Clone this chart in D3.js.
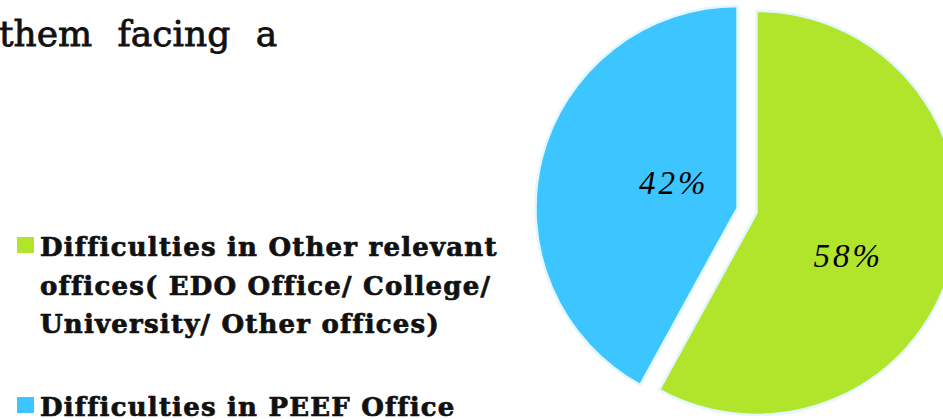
<!DOCTYPE html>
<html>
<head>
<meta charset="utf-8">
<script src="https://cdn.jsdelivr.net/npm/d3@7"></script>
<style>
  html, body { margin: 0; padding: 0; background: #fff; overflow: hidden; }
</style>
</head>
<body>
<div id="chart"></div>
<script>
// data
const categories = ["Difficulties in Other relevant offices( EDO Office/ College/ University/ Other offices)", "Difficulties in PEEF Office"];
const values = [58, 42];
const colors = ["#b1e52c", "#3cc5fe"];
const legendLines = [
  ["Difficulties in Other relevant", "offices( EDO Office/ College/", "University/ Other offices)"],
  ["Difficulties in PEEF Office"]
];
const headingWords = ["them", "facing", "a"];

const width = 943, height = 419;
const radius = 202;
const cx = 737.5, cy = 208;       // pie centre (un-exploded slice)
const explode = [19.6, 0];        // slice pulled out along its bisector
const labelDist = [0.5, 0.34];    // label distance as share of radius
const labelTurn = [0.18, 0.13];   // small angle shift of the labels (rad)

const svg = d3.select("#chart")
  .append("svg")
  .attr("width", width)
  .attr("height", height);

// heading fragment at top left
svg.append("text")
  .attr("x", -1)
  .attr("y", 46)
  .attr("font-family", "DejaVu Serif")
  .attr("font-size", 36)
  .attr("word-spacing", 14)
  .attr("fill", "#111")
  .attr("stroke", "#111")
  .attr("stroke-width", 0.8)
  .text(headingWords.join(" "));

// pie
const pie = d3.pie().sort(null).value(d => d)(values);
const arc = d3.arc().innerRadius(0).outerRadius(radius);

const slices = svg.selectAll("g.slice")
  .data(pie)
  .enter()
  .append("g")
  .attr("class", "slice")
  .attr("transform", (d, i) => {
    const a = (d.startAngle + d.endAngle) / 2;
    const dx = Math.sin(a) * explode[i], dy = -Math.cos(a) * explode[i];
    return "translate(" + (cx + dx) + "," + (cy + dy) + ")";
  });

slices.append("path")
  .attr("d", arc)
  .attr("fill", (d, i) => colors[i])
  .attr("stroke", "#e4f6ff")
  .attr("stroke-width", 2.5)
  .attr("stroke-linejoin", "round");

slices.append("text")
  .attr("x", (d, i) => {
    const a = (d.startAngle + d.endAngle) / 2 + labelTurn[i];
    return Math.sin(a) * radius * labelDist[i];
  })
  .attr("y", (d, i) => {
    const a = (d.startAngle + d.endAngle) / 2 + labelTurn[i];
    return -Math.cos(a) * radius * labelDist[i];
  })
  .attr("dy", "0.35em")
  .attr("text-anchor", "middle")
  .attr("font-family", "Liberation Serif")
  .attr("font-style", "italic")
  .attr("font-size", 33)
  .attr("letter-spacing", 3)
  .attr("fill", "#000")
  .text(d => d.data + "%");

// legend
const legendTop = [237, 397];
const legend = svg.selectAll("g.legend")
  .data(categories)
  .enter()
  .append("g")
  .attr("class", "legend")
  .attr("transform", (d, i) => "translate(17," + legendTop[i] + ")");

legend.append("rect")
  .attr("width", 17)
  .attr("height", 16)
  .attr("fill", (d, i) => colors[i]);

legend.each(function(d, i) {
  const t = d3.select(this).append("text")
    .attr("font-family", "DejaVu Serif")
    .attr("font-weight", "bold")
    .attr("font-size", 26)
    .attr("letter-spacing", 1.2)
    .attr("fill", "#111")
    .attr("stroke", "#111")
    .attr("stroke-width", 0.7);
  t.selectAll("tspan")
    .data(legendLines[i])
    .enter()
    .append("tspan")
    .attr("x", 23)
    .attr("y", (l, j) => 19 + j * 38.5)
    .text(l => l);
});
</script>
</body>
</html>
